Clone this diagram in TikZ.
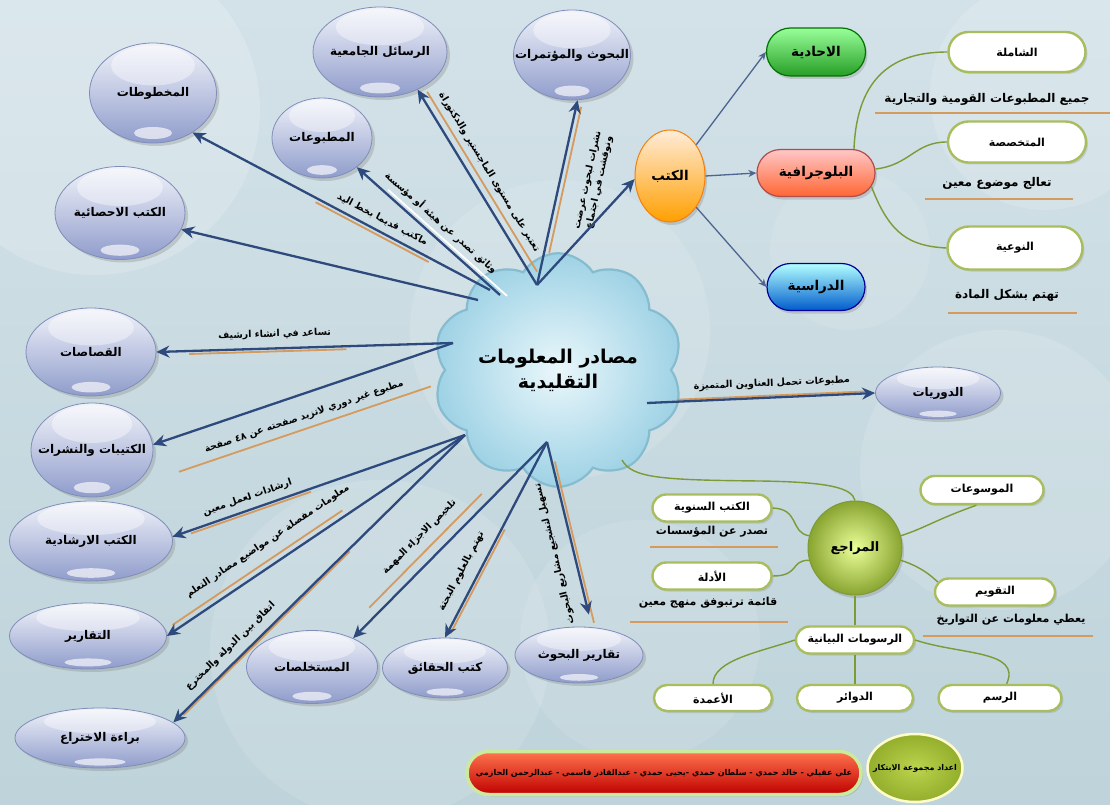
\documentclass[tikz,border=0pt]{standalone}
\usepackage{fontspec}
\usetikzlibrary{shapes.misc,shapes.symbols,shapes.geometric,arrows.meta,calc,shadows}
\TeXXeTstate=1
\newfontfamily\arabicfont[Script=Arabic]{DejaVu Sans}
\newcommand\AR[1]{{\arabicfont\bfseries\beginR #1\endR}}
\newcommand\ELT[1]{\makebox[0pt]{\AR{#1}}}
\definecolor{navy}{HTML}{2E4A7D}
\definecolor{tanC}{HTML}{D49A5E}
\definecolor{oliveC}{HTML}{7C9A36}
\definecolor{boxEdge}{HTML}{A8BE5E}
\definecolor{elTop}{HTML}{F1F3FA}
\definecolor{elBot}{HTML}{8F9CCB}
\definecolor{elEdge}{HTML}{7F8DB8}
\definecolor{bgA}{HTML}{D3E2E8}
\definecolor{bgB}{HTML}{BED3DA}
\definecolor{cloudIn}{HTML}{EAF7FB}
\definecolor{cloudOut}{HTML}{9ED2E5}
\definecolor{cloudEdge}{HTML}{86BCD0}
\definecolor{grpIn}{HTML}{BCD44E}
\definecolor{grpOut}{HTML}{93AE2C}
% src, dst, label, pos, label offset, line from, line to, line offset, extra label opts
\newcommand\lnk[9]{%
  \draw[oline] ($(#1)!#6!(#2)!#8!90:(#2)$) -- ($(#1)!#7!(#2)!#8!90:(#2)$);
  \draw[arr] (#1) -- (#2);
  \path ($(#1)!#5!90:(#2)$) -- ($(#2)!#5!-90:(#1)$) node[lbl,sloped,pos=#4,#9]{#3};
}
\tikzset{
  el/.style={ellipse, draw=elEdge, line width=.8pt, top color=elTop, bottom color=elBot, inner sep=0pt,
    font=\fontsize{12}{14}\selectfont,
    drop shadow={opacity=.3, shadow xshift=3pt, shadow yshift=-3pt},
    path picture={
      \fill[white,opacity=.4] let \p1=($(path picture bounding box.north east)-(path picture bounding box.south west)$) in
        ($(path picture bounding box.center)!.55!(path picture bounding box.north)$) ellipse [x radius={.33*abs(\x1)}, y radius={.2*abs(\y1)}];
      \fill[white,opacity=.65] let \p1=($(path picture bounding box.north east)-(path picture bounding box.south west)$) in
        ($(path picture bounding box.center)!.8!(path picture bounding box.south)$) ellipse [x radius={.15*abs(\x1)}, y radius={.06*abs(\y1)}];
    }},
  cbox/.style={rounded rectangle, line width=1.2pt, inner sep=2pt, font=\fontsize{13.5}{15}\selectfont,
    drop shadow={opacity=.3, shadow xshift=2pt, shadow yshift=-3pt}},
  wbox/.style={rounded rectangle, draw=boxEdge, line width=2.4pt, fill=white, inner sep=1pt,
    font=\fontsize{11}{13}\selectfont, drop shadow={opacity=.25, shadow xshift=2pt, shadow yshift=-2pt}},
  arr/.style={draw=navy, line width=2.3pt, -{Stealth[length=13pt,width=12pt]}},
  karr/.style={draw=navy!85, line width=1.3pt, -{Stealth[length=8pt,width=7pt]}},
  oline/.style={draw=tanC, line width=1.8pt},
  wline/.style={draw=white, line width=1.8pt},
  gline/.style={draw=oliveC, line width=1.4pt},
  lbl/.style={font=\fontsize{9.5}{12}\selectfont, inner sep=1pt, align=center},
  note/.style={font=\fontsize{12}{14}\selectfont, inner sep=1pt},
  rnote/.style={font=\fontsize{11}{13}\selectfont, inner sep=1pt},
}
\begin{document}
\begin{tikzpicture}[x=1pt,y=-1pt]
\useasboundingbox (0,0) rectangle (1110,805);
% background
\shade[top color=bgA, bottom color=bgB] (0,0) rectangle (1110,805);
\begin{scope}
\clip (0,0) rectangle (1110,805);
\fill[white,opacity=.18] (95,110) circle (165);
\fill[white,opacity=.15] (1045,95) circle (115);
\fill[white,opacity=.12] (560,330) circle (150);
\fill[white,opacity=.12] (380,650) circle (170);
\fill[white,opacity=.12] (1000,470) circle (140);
\fill[white,opacity=.10] (640,640) circle (120);
\fill[white,opacity=.10] (850,250) circle (80);
\end{scope}

% central cloud
\node[cloud, cloud puffs=10, cloud puff arc=115, aspect=1.1, minimum width=240pt, minimum height=215pt, draw=cloudEdge, line width=2.2pt,
  inner color=cloudIn, outer color=cloudOut, align=center, inner sep=0pt,
  font=\fontsize{19}{25}\selectfont] (cld) at (558,370) {\AR{مصادر المعلومات}\\\AR{التقليدية}};

% source ellipses
\node[el, minimum width=127pt, minimum height=100pt] (mkh) at (153,93) {\ELT{المخطوطات}};
\node[el, minimum width=130pt, minimum height=93pt] (ihs) at (120,213) {\ELT{الكتب الاحصائية}};
\node[el, minimum width=134pt, minimum height=90pt] (ras) at (380,52) {\ELT{الرسائل الجامعية}};
\node[el, minimum width=117pt, minimum height=90pt] (bhm) at (572,55) {\ELT{البحوث والمؤتمرات}};
\node[el, minimum width=100pt, minimum height=80pt] (mtb) at (322,138) {\ELT{المطبوعات}};
\node[el, minimum width=130pt, minimum height=88pt] (qss) at (91,352) {\ELT{القصاصات}};
\node[el, minimum width=122pt, minimum height=94pt] (ktb) at (92,450) {\ELT{الكتيبات والنشرات}};
\node[el, minimum width=163pt, minimum height=80pt] (irs) at (91,541) {\ELT{الكتب الارشادية}};
\node[el, minimum width=157pt, minimum height=66pt] (tqr) at (88,636) {\ELT{التقارير}};
\node[el, minimum width=170pt, minimum height=60pt] (bra) at (100,738) {\ELT{براءة الاختراع}};
\node[el, minimum width=131pt, minimum height=73pt] (mst) at (312,667) {\ELT{المستخلصات}};
\node[el, minimum width=125pt, minimum height=60pt] (hqq) at (445,668) {\ELT{كتب الحقائق}};
\node[el, minimum width=128pt, minimum height=56pt] (tqb) at (579,655) {\ELT{تقارير البحوث}};
\node[el, minimum width=125pt, minimum height=52pt] (drw) at (938,393) {\ELT{الدوريات}};

% books branch
\node[ellipse, minimum width=70pt, minimum height=92pt, inner sep=0pt, draw=orange!80!brown, line width=1pt,
  top color=orange!15!white, bottom color=orange!75!yellow, font=\fontsize{13.5}{15}\selectfont,
  drop shadow={opacity=.3, shadow xshift=2pt, shadow yshift=-3pt}] (kutub) at (670,176) {\ELT{الكتب}};
\node[cbox, minimum width=103pt, minimum height=48pt, draw=green!45!black, top color=green!40!white, bottom color=green!55!black!85] (ahd) at (816,52) {\AR{الاحادية}};
\node[cbox, minimum width=122pt, minimum height=47pt, draw=red!55!black!70, top color=red!22!white, bottom color=red!50!orange!80!white] (blg) at (816,173) {\AR{البلوجرافية}};
\node[cbox, minimum width=102pt, minimum height=47pt, draw=blue!60!black, top color=cyan!30!white, bottom color=blue!55!cyan!80!black] (drs) at (816,287) {\AR{الدراسية}};
\node[wbox, minimum width=139pt, minimum height=40pt] (shm) at (1017,52) {\AR{الشاملة}};
\node[wbox, minimum width=140pt, minimum height=41pt] (mtk) at (1017,142) {\AR{المتخصصة}};
\node[wbox, minimum width=137pt, minimum height=43pt] (nwa) at (1015,248) {\AR{النوعية}};
\node[note] (t1) at (987,99) {\AR{جميع المطبوعات القومية والتجارية}};
\node[note] (t2) at (997,183) {\AR{تعالج موضوع معين}};
\node[note] (t3) at (1007,295) {\AR{تهتم بشكل المادة}};
\draw[oline] (875,113) -- (1110,113);
\draw[oline] (925,199) -- (1073,199);
\draw[oline] (948,313) -- (1077,313);

\draw[karr] (kutub.50) -- (ahd.west);
\draw[karr] (kutub.east) -- (blg.west);
\draw[karr] (kutub.-50) -- (drs.west);
\draw[gline] ($(blg.north)+(38,0)$) .. controls (857,75) and (895,52) .. (shm.west);
\draw[gline] ($(blg.east)+(0,-4)$) .. controls (910,165) and (915,142) .. (mtk.west);
\draw[gline] ($(blg.east)+(-4,14)$) .. controls (890,235) and (910,246) .. (nwa.west);

% references branch
\node[circle, minimum size=94pt, inner sep=0pt, draw=oliveC, line width=1pt, inner color=green!20!yellow!40!white, outer color=oliveC!90!yellow,
  font=\fontsize{13}{15}\selectfont, drop shadow={opacity=.3, shadow xshift=2pt, shadow yshift=-3pt}] (mrj) at (855,548) {\ELT{المراجع}};
\node[wbox, minimum width=125pt, minimum height=28pt] (mws) at (982,490) {\AR{الموسوعات}};
\node[wbox, minimum width=121pt, minimum height=27pt] (ksn) at (712,508) {\AR{الكتب السنوية}};
\node[wbox, minimum width=121pt, minimum height=27pt] (adl) at (712,576) {\AR{الأدلة}};
\node[wbox, minimum width=122pt, minimum height=27pt] (tqw) at (995,592) {\AR{التقويم}};
\node[wbox, minimum width=120pt, minimum height=27pt] (rsb) at (855,640) {\AR{الرسومات البيانية}};
\node[wbox, minimum width=120pt, minimum height=26pt] (amd) at (713,698) {\AR{الأعمدة}};
\node[wbox, minimum width=118pt, minimum height=26pt] (dwr) at (855,698) {\AR{الدوائر}};
\node[wbox, minimum width=125pt, minimum height=26pt] (rsm) at (1000,698) {\AR{الرسم}};
\node[rnote] (t4) at (712,532) {\AR{تصدر عن المؤسسات}};
\node[rnote] (t5) at (708,603) {\AR{قائمة ترتبوفق منهج معين}};
\node[rnote] (t6) at (1011,620) {\AR{يعطي معلومات عن التواريخ}};
\draw[oline] (650,547) -- (778,547);
\draw[oline] (630,622) -- (788,622);
\draw[oline] (923,636) -- (1093,636);

\coordinate (sH) at (622,460);
\draw[gline] (sH) .. controls (632,478) and (660,480) .. (760,481) .. controls (830,482) and (852,488) .. (mrj.north);
\draw[gline] (mrj.165) .. controls (790,533) and (800,509) .. (ksn.east);
\draw[gline] (mrj.195) .. controls (790,560) and (800,576) .. (adl.east);
\draw[gline] (mrj.15) .. controls (925,528) and (935,520) .. (mws.250);
\draw[gline] (mrj.-15) .. controls (925,568) and (935,580) .. (tqw.170);
\draw[gline] (mrj.south) -- (rsb.north);
\draw[gline] (rsb.west) .. controls (760,652) and (713,660) .. (amd.north);
\draw[gline] (rsb.south) -- (dwr.north);
\draw[gline] (rsb.east) .. controls (960,655) and (1022,650) .. (rsm.65);

% connectors from the cloud
\coordinate (sA) at (490,290);
\coordinate (sA2) at (500,295);
\coordinate (sA3) at (478,300);
\coordinate (sB) at (537,285);
\coordinate (sD) at (453,343);
\coordinate (sE) at (465,435);
\coordinate (sF) at (547,442);
\coordinate (sG) at (647,403);

\lnk{sA}{mkh.-45}{\AR{ماكتب قديما بخط اليد}}{.38}{-12pt}{.2}{.58}{4pt}{}
\draw[wline] ($(sA2)!-.03!(mtb.-40)!-4pt!90:(mtb.-40)$) -- ($(sA2)!.8!(mtb.-40)!-4pt!90:(mtb.-40)$);
\draw[arr] (sA2) -- (mtb.-40);
\path ($(sA2)!-15pt!90:(mtb.-40)$) -- ($(mtb.-40)!-15pt!-90:(sA2)$) node[lbl,sloped,pos=.48]{\AR{وثائق تصدر عن هيئة أو مؤسسة}};
\draw[arr] (sA3) -- (ihs.-15);
\lnk{sB}{ras.-45}{\AR{تعتبر على مستوى الماجستير والدكتوراة}}{.53}{-18pt}{.05}{.97}{-7pt}{}
\lnk{sB}{bhm.-83}{\AR{نشرات لبحوث عرضت}\\\AR{ونوقشت في اجتماع}}{.6}{-33pt}{.18}{.97}{-5pt}{}
\draw[arr] (sB) -- (kutub.185);
\lnk{sD}{qss.east}{\AR{تساعد في انشاء ارشيف}}{.6}{-14pt}{.36}{.89}{3pt}{}
\lnk{sD}{ktb.5}{\AR{مطبوع غير دوري لاتزيد صفحته عن ٤٨ صفحة}}{.52}{22pt}{.11}{.95}{34pt}{}
\lnk{sE}{irs.3}{\AR{ارشادات لعمل معين}}{.73}{-12pt}{.53}{.94}{3pt}{}
\lnk{sE}{tqr.east}{\AR{معلومات مفصلة عن مواضيع مصادر التعلم}}{.62}{-22pt}{.4}{.97}{-6pt}{}
\lnk{sE}{bra.12}{\AR{اتفاق بين الدولة والمخترع}}{.77}{-14pt}{.4}{.97}{2pt}{}
\lnk{sF}{mst.35}{\AR{تلخيص الاجزاء المهمة}}{.57}{-24pt}{.3}{.88}{-10pt}{}
\lnk{sF}{hqq.north}{\AR{تهتم بالعلوم البحتة}}{.7}{-16pt}{.44}{.97}{3pt}{}
\draw[oline] ($(sF)!.11!(tqb.65)!3pt!90:(tqb.65)$) -- ($(sF)!.98!(tqb.65)!3pt!90:(tqb.65)$);
\draw[arr, shorten >=13pt] (sF) -- (tqb.65);
\path ($(sF)!-19pt!90:(tqb.65)$) -- ($(tqb.65)!-19pt!-90:(sF)$) node[lbl,sloped,pos=.58,rotate=180]{\AR{تسهيل لتشجيع مشاريع البحوث}};
\lnk{sG}{drw.west}{\AR{مطبوعات تحمل العناوين المتميزة}}{.55}{14pt}{.13}{.97}{2pt}{}

% credits
\node[rounded rectangle, minimum width=398pt, minimum height=43pt, inner sep=2pt, draw=yellow!50!green!40!white, line width=3.5pt,
  top color=red!55!orange!70!white, bottom color=red!75!black, font=\fontsize{8}{10}\selectfont,
  drop shadow={opacity=.3, shadow xshift=2pt, shadow yshift=-2pt}] (team) at (664,773)
  {\AR{علي عقيلي - خالد حمدي - سلطان حمدي -يحيى حمدي - عبدالقادر قاسمي - عبدالرحمن الحازمي}};
\node[ellipse, minimum width=95pt, minimum height=68pt, inner sep=0pt, draw=yellow!20!white, line width=2.5pt,
  inner color=grpIn, outer color=grpOut] (grp) at (915,768) {};
\node[font=\fontsize{8}{10}\selectfont, inner sep=0pt] (grpt) at (grp) {\AR{اعداد مجموعة الابتكار}};
\end{tikzpicture}
\end{document}
